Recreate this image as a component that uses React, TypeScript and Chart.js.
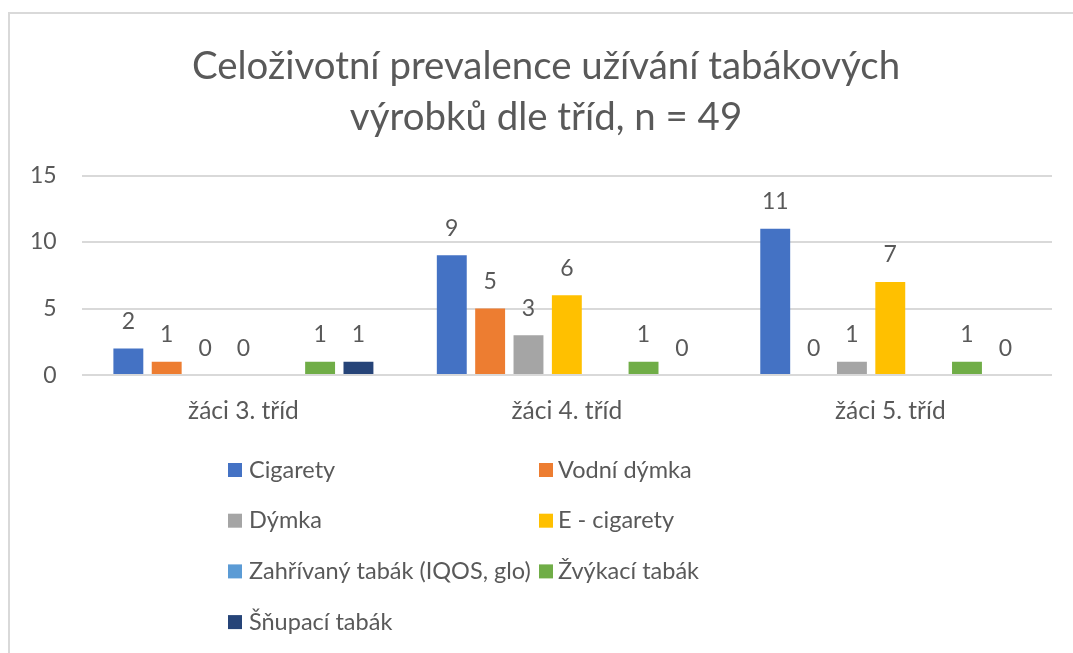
import React, { useEffect, useRef } from 'react';
import { Chart, registerables } from 'chart.js';

Chart.register(...registerables);

const titleLines = ['Celoživotní prevalence užívání tabákových', 'výrobků dle tříd, n = 49'];
const categories = ['žáci 3. tříd', 'žáci 4. tříd', 'žáci 5. tříd'];
const seriesNames = [
  'Cigarety',
  'Vodní dýmka',
  'Dýmka',
  'E - cigarety',
  'Zahřívaný tabák (IQOS, glo)',
  'Žvýkací tabák',
  'Šňupací tabák',
];
const cigarety = [2, 9, 11];
const vodniDymka = [1, 5, 0];
const dymka = [0, 3, 1];
const eCigarety = [0, 6, 7];
const zahrivanyTabak = [null, null, null];
const zvykaciTabak = [1, 1, 1];
const snupaciTabak = [1, 0, 0];
const seriesColors = ['#4472C4', '#ED7D31', '#A5A5A5', '#FFC000', '#5B9BD5', '#70AD47', '#264478'];
const yMin = 0;
const yMax = 15;
const yStep = 5;

const FONT = 'Lato, "Open Sans", sans-serif';
const TEXT = '#595959';

const chartTitle = {
  id: 'chartTitle',
  afterDraw(chart: any) {
    const ctx = chart.ctx;
    ctx.save();
    ctx.font = `38.4px ${FONT}`;
    ctx.fillStyle = TEXT;
    ctx.textAlign = 'center';
    ctx.textBaseline = 'middle';
    const cx = chart.width / 2 + 9.5;
    titleLines.forEach((line, i) => ctx.fillText(line, cx, 67 + i * 51));
    ctx.restore();
  },
};

const valueLabels = {
  id: 'valueLabels',
  afterDatasetsDraw(chart: any) {
    const ctx = chart.ctx;
    ctx.save();
    ctx.font = `23px ${FONT}`;
    ctx.fillStyle = TEXT;
    ctx.textAlign = 'center';
    ctx.textBaseline = 'middle';
    chart.data.datasets.forEach((ds: any, i: number) => {
      const meta = chart.getDatasetMeta(i);
      meta.data.forEach((bar: any, j: number) => {
        const v = ds.data[j];
        if (v === null || v === undefined) return;
        ctx.fillText(String(v), bar.x, bar.y - 27);
      });
    });
    ctx.restore();
  },
};

const gridLegend = {
  id: 'gridLegend',
  afterDraw(chart: any) {
    const ctx = chart.ctx;
    const colX = [228, 539];
    const rowTop = 470;
    const rowH = 50.7;
    const box = 14;
    ctx.save();
    ctx.font = `23.5px ${FONT}`;
    ctx.textAlign = 'left';
    ctx.textBaseline = 'middle';
    chart.data.datasets.forEach((ds: any, i: number) => {
      const col = i % 2;
      const row = Math.floor(i / 2);
      const x = colX[col];
      const y = rowTop + row * rowH;
      ctx.fillStyle = ds.backgroundColor;
      ctx.fillRect(x, y - box / 2, box, box);
      ctx.fillStyle = TEXT;
      ctx.fillText(ds.label, x + box + (col === 0 ? 7 : 5), y);
    });
    ctx.restore();
  },
};

export default function App() {
  const ref = useRef<HTMLCanvasElement | null>(null);
  useEffect(() => {
    if (!ref.current) return;
    const values = [cigarety, vodniDymka, dymka, eCigarety, zahrivanyTabak, zvykaciTabak, snupaciTabak];
    const chart = new Chart(ref.current, {
      type: 'bar',
      data: {
        labels: categories,
        datasets: seriesNames.map((name, i) => ({
          label: name,
          data: values[i] as any,
          backgroundColor: seriesColors[i],
          borderWidth: 0,
          categoryPercentage: 0.83,
          barPercentage: 0.78,
        })),
      },
      options: {
        responsive: false,
        animation: false,
        devicePixelRatio: 1,
        layout: { padding: { left: 5, right: 21, top: 175.5, bottom: 206.5 } },
        plugins: {
          legend: { display: false },
          tooltip: { enabled: false },
          title: { display: false },
        },
        scales: {
          x: {
            grid: { display: false, drawTicks: false },
            border: { display: false },
            ticks: { color: TEXT, font: { family: FONT, size: 24.5 }, padding: 21 },
          },
          y: {
            min: yMin,
            max: yMax,
            grid: { color: '#d9d9d9', lineWidth: 2, drawTicks: false },
            border: { display: false },
            ticks: { stepSize: yStep, color: TEXT, font: { family: FONT, size: 23 }, padding: 25 },
          },
        },
      },
      plugins: [chartTitle, valueLabels, gridLegend],
    });
    return () => chart.destroy();
  }, []);

  return (
    <div style={{ position: 'fixed', left: 0, top: 0, width: 1073, height: 653, background: '#fff' }}>
      <div
        style={{
          position: 'absolute',
          left: 8,
          top: 12,
          width: 1065,
          height: 641,
          borderLeft: '2px solid #d9d9d9',
          borderTop: '2px solid #d9d9d9',
          boxSizing: 'border-box',
        }}
      />
      <canvas ref={ref} width={1073} height={653} style={{ position: 'absolute', left: 0, top: 0 }} />
    </div>
  );
}
